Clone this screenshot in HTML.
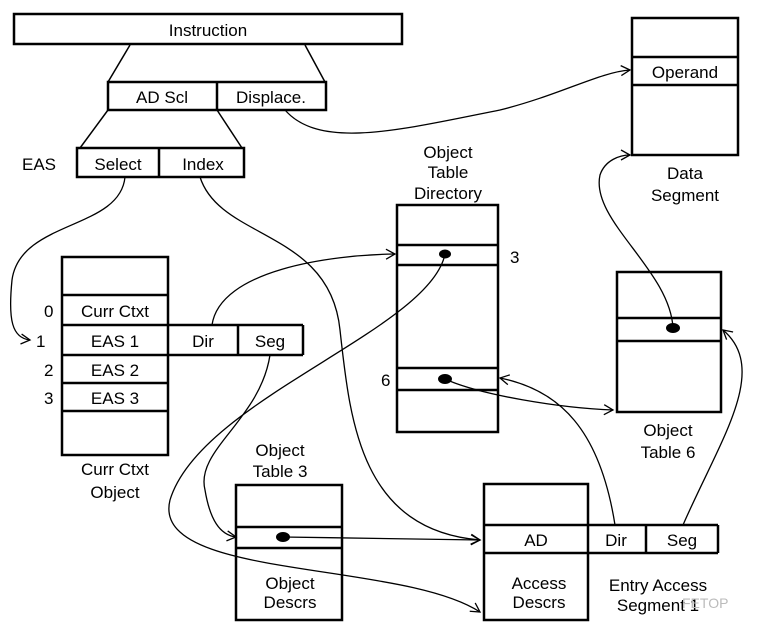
<!DOCTYPE html>
<html><head><meta charset="utf-8"><style>
html,body{margin:0;padding:0;background:#fff;}
svg{display:block;}
text{font-family:"Liberation Sans",sans-serif;font-size:17px;fill:#000;}
</style></head><body>
<svg width="774" height="631" viewBox="0 0 774 631" xmlns="http://www.w3.org/2000/svg">
<defs>
<marker id="a" markerWidth="12" markerHeight="12" refX="10" refY="6" orient="auto" markerUnits="userSpaceOnUse">
<polyline points="1,1 10,6 1,11" fill="none" stroke="#000" stroke-width="1.3"/>
</marker>
</defs>
<g fill="none" stroke="#000" stroke-width="2.5">
<rect x="14" y="14" width="388" height="30"/>
<rect x="108" y="82" width="218" height="28"/><line x1="217" y1="82" x2="217" y2="110"/>
<rect x="77" y="148" width="167" height="29"/><line x1="159" y1="148" x2="159" y2="177"/>
<rect x="62" y="257" width="106" height="198"/>
<line x1="62" y1="295" x2="168" y2="295"/><line x1="62" y1="325" x2="303" y2="325"/>
<line x1="62" y1="355" x2="303" y2="355"/><line x1="62" y1="383" x2="168" y2="383"/>
<line x1="62" y1="411" x2="168" y2="411"/>
<line x1="303" y1="325" x2="303" y2="355"/><line x1="238" y1="325" x2="238" y2="355"/>
<rect x="397" y="205" width="101" height="227"/>
<line x1="397" y1="245" x2="498" y2="245"/><line x1="397" y1="265" x2="498" y2="265"/>
<line x1="397" y1="368" x2="498" y2="368"/><line x1="397" y1="390" x2="498" y2="390"/>
<rect x="632" y="18" width="106" height="137"/>
<line x1="632" y1="57" x2="738" y2="57"/><line x1="632" y1="85" x2="738" y2="85"/>
<rect x="617" y="272" width="104" height="140"/>
<line x1="617" y1="318" x2="721" y2="318"/><line x1="617" y1="341" x2="721" y2="341"/>
<rect x="236" y="485" width="106" height="135"/>
<line x1="236" y1="527" x2="342" y2="527"/><line x1="236" y1="548" x2="342" y2="548"/>
<rect x="484" y="484" width="104" height="136"/>
<line x1="484" y1="525" x2="718" y2="525"/><line x1="484" y1="553" x2="718" y2="553"/>
<line x1="718" y1="525" x2="718" y2="553"/><line x1="646" y1="525" x2="646" y2="553"/>
</g>
<g fill="none" stroke="#000" stroke-width="1.5">
<line x1="130" y1="45" x2="108" y2="82"/><line x1="305" y1="45" x2="325" y2="82"/>
<line x1="108" y1="110" x2="80" y2="148"/><line x1="217" y1="110" x2="242" y2="148"/>
</g>
<g fill="none" stroke="#000" stroke-width="1.3" marker-end="url(#a)">
<path d="M125,177 C120,230 20,220 12,280 C8,320 12,338 30,340"/>
<path d="M200,177 C220,240 330,230 340,330 C350,420 360,530 480,540"/>
<path d="M285,110 C320,150 400,130 500,110 C560,95 600,72 630,70"/>
<path d="M212,325 C220,270 330,255 395,254"/>
<path d="M270,355 C260,420 195,450 205,490 C210,520 220,535 236,537"/>
<path d="M445,254 C430,330 200,400 170,500 C150,580 400,560 480,612"/>
<path d="M283,537 C350,538 420,539 480,540"/>
<path d="M445,379 C480,395 560,408 613,410"/>
<path d="M615,525 C600,430 560,390 500,378"/>
<path d="M683,525 C720,440 770,370 723,330"/>
<path d="M673,328 C670,270 590,220 600,175 C605,160 620,155 630,155"/>
</g>
<g fill="#000">
<ellipse cx="445" cy="254" rx="6" ry="4.5"/><ellipse cx="445" cy="379" rx="7" ry="5"/>
<ellipse cx="673" cy="328" rx="7" ry="5"/><ellipse cx="283" cy="537" rx="7" ry="5"/>
</g>
<g text-anchor="middle">
<text x="208" y="36">Instruction</text>
<text x="162" y="103">AD Scl</text><text x="271" y="103">Displace.</text>
<text x="118" y="170">Select</text><text x="203" y="170">Index</text>
<text x="115" y="317">Curr Ctxt</text><text x="115" y="347">EAS 1</text>
<text x="115" y="376">EAS 2</text><text x="115" y="404">EAS 3</text>
<text x="203" y="347">Dir</text><text x="270" y="347">Seg</text>
<text x="115" y="475">Curr Ctxt</text><text x="115" y="498">Object</text>
<text x="448" y="158">Object</text><text x="448" y="178">Table</text><text x="448" y="199">Directory</text>
<text x="685" y="78">Operand</text>
<text x="685" y="179">Data</text><text x="685" y="201">Segment</text>
<text x="668" y="436">Object</text><text x="668" y="458">Table  6</text>
<text x="280" y="456">Object</text><text x="280" y="477">Table  3</text>
<text x="290" y="589">Object</text><text x="290" y="608">Descrs</text>
<text x="536" y="546">AD</text><text x="616" y="546">Dir</text><text x="682" y="546">Seg</text>
<text x="539" y="589">Access</text><text x="539" y="608">Descrs</text>
<text x="658" y="591">Entry  Access</text><text x="658" y="611">Segment 1</text>
</g>
<text x="22" y="170">EAS</text>
<text x="44" y="317">0</text><text x="36" y="347">1</text><text x="44" y="376">2</text><text x="44" y="404">3</text>
<text x="510" y="263">3</text><text x="381" y="386">6</text>
<text x="682" y="608" style="font-size:14px;fill:#bbb">FETOP</text>
</svg>
</body></html>
